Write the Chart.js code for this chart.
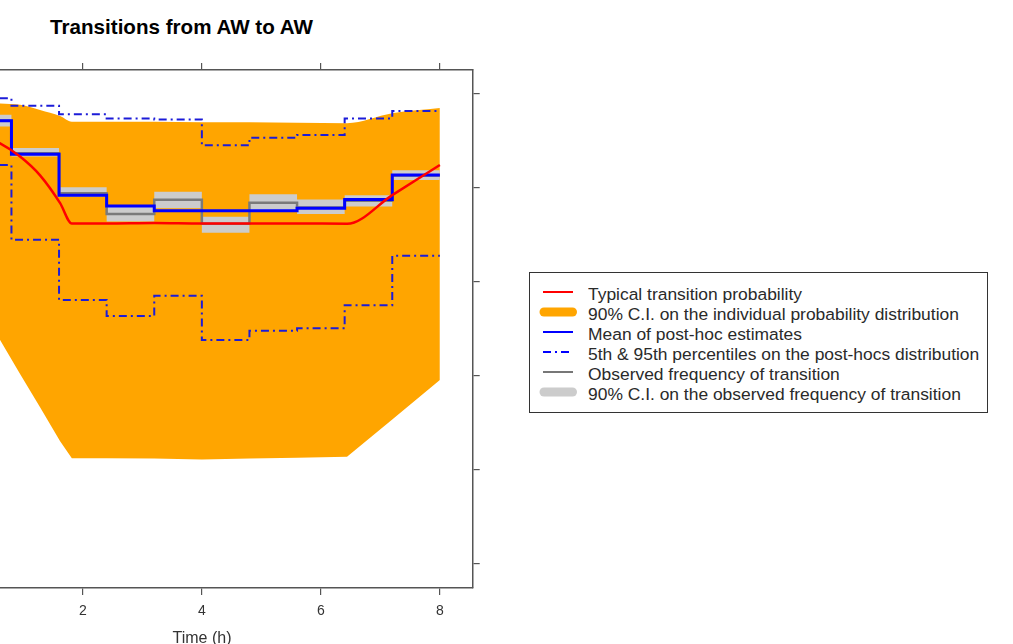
<!DOCTYPE html>
<html>
<head>
<meta charset="utf-8">
<script src="https://cdn.jsdelivr.net/npm/chart.js@4.4.0/dist/chart.umd.min.js"></script>
<style>
  html, body { margin: 0; padding: 0; background: #fff; overflow: hidden; }
  body { width: 1013px; height: 644px; position: relative; font-family: "Liberation Sans", Arial, sans-serif; }
  #plotWrap { position: absolute; left: -100px; top: 0; width: 700px; height: 644px; }
  #title { position: absolute; left: 0; top: 14.5px; width: 363px; text-align: center; font-weight: bold;
           font-size: 20.6px; line-height: 24px; color: #000; }
  #xTitle { position: absolute; left: 152px; top: 628.7px; width: 100px; text-align: center;
            font-size: 16px; line-height: 18px; color: #333; }
  #legend { position: absolute; left: 529px; top: 271.5px; width: 457px; height: 139px;
            border: 1px solid #333; background: #fff; }
  .row { position: absolute; left: 0; height: 20px; width: 457px; }
  .row svg { position: absolute; left: 8px; top: 0; }
  .row span { position: absolute; left: 58px; top: 0; font-size: 16.3px; line-height: 20px; color: #2a2a2a;
              white-space: nowrap; transform: scaleX(1.07); transform-origin: left center; }
</style>
</head>
<body>
<div id="title">Transitions from AW to AW</div>
<div id="plotWrap"><canvas id="transChart" width="700" height="644"></canvas></div>
<div id="xTitle">Time (h)</div>
<div id="legend"></div>
<script>
// Model curves (typical probability and 90% C.I. on individual probability)
const timeGrid    = [0, 0.609, 0.945, 1.281, 1.618, 1.815, 2.4, 3.2, 4.0, 4.8, 5.6, 6.44, 7.2, 8.0];
const typicalProb = [0.925, 0.894, 0.866, 0.826, 0.767, 0.724, 0.724, 0.725, 0.724, 0.724, 0.724, 0.723, 0.784, 0.848];
const indivCIHigh = [0.985, 0.979, 0.976, 0.965, 0.952, 0.940, 0.940, 0.940, 0.939, 0.939, 0.938, 0.937, 0.958, 0.969];
const indivCILow  = [0.606, 0.476, 0.404, 0.333, 0.261, 0.225, 0.225, 0.224, 0.222, 0.224, 0.226, 0.228, 0.307, 0.391];

// 0.8 h bins, last edge repeats the last value so the step reaches 8 h
const binEdges    = [0, 0.8, 1.6, 2.4, 3.2, 4.0, 4.8, 5.6, 6.4, 7.2, 8.0];
const postHocMean = [0.942, 0.871, 0.784, 0.761, 0.751, 0.751, 0.751, 0.756, 0.775, 0.827, 0.827];
const postHocP95  = [0.990, 0.974, 0.956, 0.947, 0.945, 0.890, 0.906, 0.912, 0.947, 0.963, 0.963];
const postHocP5   = [0.848, 0.689, 0.561, 0.527, 0.570, 0.476, 0.496, 0.501, 0.550, 0.655, 0.655];
const observed    = [0.942, 0.873, 0.788, 0.744, 0.774, 0.723, 0.768, 0.758, 0.772, 0.826, 0.826];
const observedHi  = [0.955, 0.884, 0.801, 0.760, 0.791, 0.738, 0.786, 0.775, 0.784, 0.837, 0.837];
const observedLo  = [0.930, 0.866, 0.781, 0.728, 0.756, 0.704, 0.752, 0.744, 0.760, 0.816, 0.816];

const xTicks = [0, 2, 4, 6, 8];
const yTicks = [0, 0.2, 0.4, 0.6, 0.8, 1.0];

const legendItems = [
  { label: 'Typical transition probability', color: '#ff0000', kind: 'line' },
  { label: '90% C.I. on the individual probability distribution', color: '#ffa500', kind: 'bar' },
  { label: 'Mean of post-hoc estimates', color: '#0000ff', kind: 'line' },
  { label: '5th & 95th percentiles on the post-hocs distribution', color: '#0000ff', kind: 'dash' },
  { label: 'Observed frequency of transition', color: '#777777', kind: 'line' },
  { label: '90% C.I. on the observed frequency of transition', color: '#cccccc', kind: 'bar' }
];

const pts = (xs, ys) => xs.map((x, i) => ({ x: x, y: ys[i] }));

// axis box sizes so the plot frame sits where the reference has it
const fixHeight = h => scale => { scale.height = h; };
const fixWidth = w => scale => { scale.width = w; };
const setTicks = list => scale => { scale.ticks = list.map(v => ({ value: v })); };

const frameColor = '#555';
const axisGrid = { drawOnChartArea: false, tickLength: 7, color: frameColor, lineWidth: 1.2 };
const axisBorder = { display: true, color: frameColor, width: 1.5 };

new Chart(document.getElementById('transChart'), {
  type: 'line',
  data: {
    datasets: [
      { data: pts(timeGrid, typicalProb), borderColor: '#ff0000', borderWidth: 2.5, cubicInterpolationMode: 'monotone' },
      { data: pts(binEdges, postHocMean), borderColor: '#0000ff', borderWidth: 3, stepped: true },
      { data: pts(binEdges, observed), borderColor: '#7a7a7a', borderWidth: 2.5, stepped: true },
      { data: pts(binEdges, observedHi), borderWidth: 0, stepped: true, fill: '+1', backgroundColor: '#cccccc' },
      { data: pts(binEdges, observedLo), borderWidth: 0, stepped: true },
      { data: pts(binEdges, postHocP95), borderColor: '#1c1cd8', borderWidth: 2, stepped: true, borderDash: [8, 4, 2, 4] },
      { data: pts(binEdges, postHocP5), borderColor: '#1c1cd8', borderWidth: 2, stepped: true, borderDash: [8, 4, 2, 4] },
      { data: pts(timeGrid, indivCIHigh), borderWidth: 0, fill: '+1', backgroundColor: '#ffa500', cubicInterpolationMode: 'monotone' },
      { data: pts(timeGrid, indivCILow), borderWidth: 0 }
    ]
  },
  options: {
    responsive: false,
    animation: false,
    devicePixelRatio: 1,
    layout: { padding: { left: 31, right: 0, top: 0, bottom: 0 } },
    elements: { point: { radius: 0 }, line: { tension: 0 } },
    plugins: { legend: { display: false }, tooltip: { enabled: false } },
    scales: {
      x: {
        type: 'linear', position: 'bottom', min: -0.552, max: 8.552,
        grid: axisGrid, border: axisBorder,
        ticks: { color: '#333', padding: 8, font: { family: 'Liberation Sans', size: 14 } },
        afterBuildTicks: setTicks(xTicks),
        afterFit: fixHeight(56)
      },
      xTop: {
        type: 'linear', position: 'top', min: -0.552, max: 8.552,
        grid: axisGrid, border: axisBorder,
        ticks: { display: false },
        afterBuildTicks: setTicks(xTicks),
        afterFit: fixHeight(70)
      },
      y: {
        type: 'linear', position: 'right', min: -0.051, max: 1.05,
        grid: axisGrid, border: axisBorder,
        ticks: { display: false },
        afterBuildTicks: setTicks(yTicks),
        afterFit: fixWidth(127.3)
      }
    }
  }
});

// legend box built from legendItems
const legendEl = document.getElementById('legend');
legendItems.forEach((item, i) => {
  const row = document.createElement('div');
  row.className = 'row';
  row.style.top = (11.3 + 20 * i) + 'px';
  let sym;
  if (item.kind === 'bar') {
    sym = `<line x1="6" y1="8" x2="34.5" y2="8" stroke="${item.color}" stroke-width="9" stroke-linecap="round"/>`;
  } else if (item.kind === 'dash') {
    sym = `<line x1="5" y1="8" x2="35" y2="8" stroke="${item.color}" stroke-width="2" stroke-dasharray="8 4 2 4"/>`;
  } else {
    sym = `<line x1="5" y1="8" x2="35" y2="8" stroke="${item.color}" stroke-width="2"/>`;
  }
  row.innerHTML = `<svg width="42" height="20">${sym}</svg><span></span>`;
  row.querySelector('span').textContent = item.label;
  legendEl.appendChild(row);
});
</script>
</body>
</html>
